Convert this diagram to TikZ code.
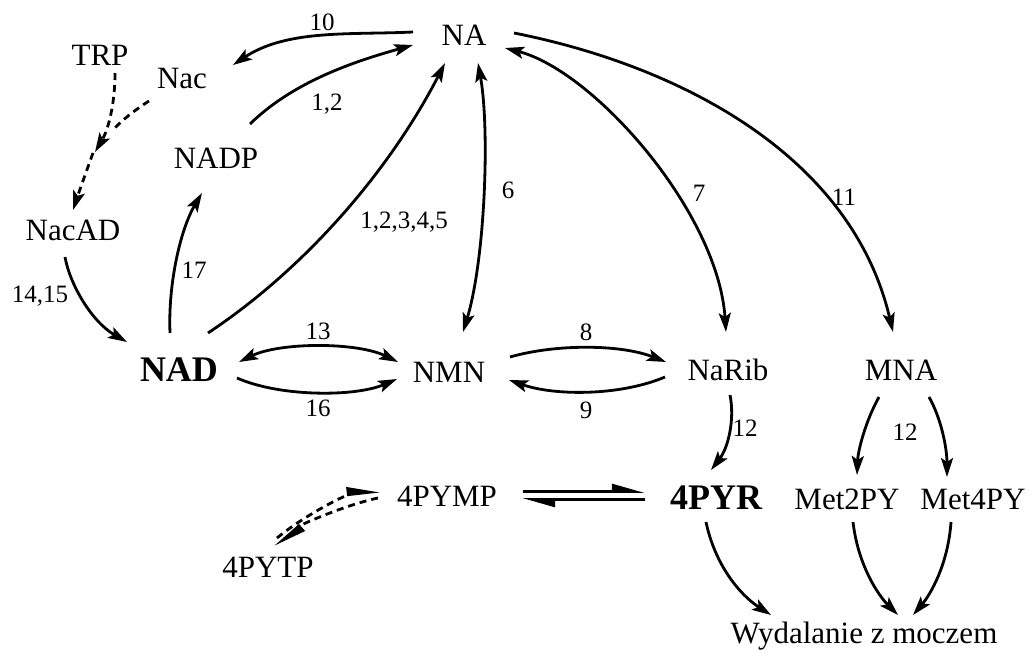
\documentclass[tikz,border=0pt]{standalone}
\usepackage{fontspec}
\setmainfont{Liberation Serif}
\usetikzlibrary{arrows.meta,calc}
\begin{document}
\begin{tikzpicture}[x=1pt,y=-1pt,
  nd/.style={font=\fontsize{31}{36}\selectfont, text height=20.5pt, text depth=0pt, inner sep=0pt},
  nb/.style={font=\fontsize{36}{42}\selectfont\bfseries, text height=24.3pt, text depth=0pt, inner sep=0pt},
  lbl/.style={font=\fontsize{25}{30}\selectfont, text height=17pt, text depth=0pt, inner sep=0pt},
  arr/.style={line width=2.8pt, -{Stealth[length=19pt,width=12pt,inset=4pt]}},
  darr/.style={line width=2.8pt, {Stealth[length=19pt,width=12pt,inset=4pt]}-{Stealth[length=19pt,width=12pt,inset=4pt]}},
  dsh/.style={dash pattern=on 7pt off 5pt},
  harp/.style={line width=2.8pt, -{Stealth[harpoon,length=28pt,width=15pt,inset=0pt]}}
]
\useasboundingbox (0,0) rectangle (1035,656);
% nodes
\node[nd] (NA) at (464,35) {NA};
\node[nd] (TRP) at (100,55) {TRP};
\node[nd] (Nac) at (182,78) {Nac};
\node[nd] (NADP) at (216,158) {NADP};
\node[nd] (NacAD) at (73,230) {NacAD};
\node[nb] (NAD) at (179,369) {NAD};
\node[nd] (NMN) at (449,372) {NMN};
\node[nd] (NaRib) at (728,370) {NaRib};
\node[nd] (MNA) at (901,370) {MNA};
\node[nb] (PYR) at (716,497) {4PYR};
\node[nd] (M2) at (847,499) {Met2PY};
\node[nd] (M4) at (973,499) {Met4PY};
\node[nd] (PYMP) at (447,496) {4PYMP};
\node[nd] (PYTP) at (268,567) {4PYTP};
\node[nd] (Wyd) at (864,633) {Wydalanie z moczem};
% labels
\node[lbl] (l10) at (322,22) {10};
\node[lbl] (l12a) at (327,102) {1,2};
\node[lbl] (l12345) at (404,220) {1,2,3,4,5};
\node[lbl] (l17) at (194,270) {17};
\node[lbl] (l1415) at (40,294) {14,15};
\node[lbl] (l6) at (508,190) {6};
\node[lbl] (l7) at (699,193) {7};
\node[lbl] (l11) at (844,197) {11};
\node[lbl] (l13) at (318,331) {13};
\node[lbl] (l16) at (318,408) {16};
\node[lbl] (l8) at (586,332) {8};
\node[lbl] (l9) at (586,410) {9};
\node[lbl] (l12b) at (745,428) {12};
\node[lbl] (l12c) at (905,432) {12};
% junction points for dashed arrows
\coordinate (j) at (95,152);
\coordinate (j2) at (113,130);
\coordinate (j3) at (93,153);
% connectors
\draw[arr] ($(NA)+(-51,-3)$) .. controls (351,35) and (287,29) .. ($(Nac)+(51,-13)$);
\draw[arr] ($(NADP)+(34,-34)$) .. controls (294,81) and (356,61) .. ($(NA)+(-51,10)$);
\draw[arr] ($(NAD)+(29,-36)$) .. controls (306,268) and (390,170) .. ($(NA)+(-19,28)$);
\draw[arr] ($(NAD)+(-9,-36)$) .. controls (168,285) and (180,230) .. ($(NADP)+(-14,35)$);
\draw[arr] ($(NacAD)+(-8,27)$) .. controls (70,285) and (92,322) .. ($(NAD)+(-52,-27)$);
\draw[darr] ($(NA)+(14,28)$) .. controls (490,130) and (485,260) .. ($(NMN)+(14,-40)$);
\draw[darr] ($(NA)+(41,13)$) .. controls (594,71) and (718,212) .. ($(NaRib)+(-2,-38)$);
\draw[arr] ($(NA)+(50,-2)$) .. controls (676,65) and (851,153) .. ($(MNA)+(-8,-38)$);
\draw[darr] ($(NAD)+(60,-7)$) .. controls (280,342) and (357,342) .. ($(NMN)+(-51,-10)$);
\draw[arr] ($(NAD)+(58,9)$) .. controls (280,397) and (355,397) .. ($(NMN)+(-52,7)$);
\draw[arr] ($(NMN)+(61,-15)$) .. controls (555,344) and (620,344) .. ($(NaRib)+(-62,-8)$);
\draw[arr] ($(NaRib)+(-63,7)$) .. controls (620,396) and (555,396) .. ($(NMN)+(60,8)$);
\draw[arr] ($(NaRib)+(2,25)$) .. controls (735,420) and (728,448) .. ($(PYR)+(-5,-27)$);
\draw[arr] ($(MNA)+(-22,27)$) .. controls (866,420) and (858,450) .. ($(M2)+(10,-24)$);
\draw[arr] ($(MNA)+(28,27)$) .. controls (942,420) and (947,450) .. ($(M4)+(-26,-22)$);
\draw[arr] ($(PYR)+(-10,25)$) .. controls (715,565) and (740,595) .. ($(Wyd)+(-93,-18)$);
\draw[arr] ($(M2)+(6,23)$) .. controls (858,565) and (878,595) .. ($(Wyd)+(34,-18)$);
\draw[arr] ($(M4)+(-22,23)$) .. controls (948,565) and (930,595) .. ($(Wyd)+(49,-18)$);
\draw[harp] ($(PYMP)+(76,-4.5)$) -- ($(PYR)+(-71,-5.5)$);
\draw[harp] ($(PYR)+(-71,2.5)$) -- ($(PYMP)+(75,3.5)$);
\draw[harp,dsh] ($(PYTP)+(9,-29)$) .. controls (305,515) and (345,495) .. ($(PYMP)+(-67,-5)$);
\draw[harp,dsh] ($(PYMP)+(-69,2)$) .. controls (345,505) and (300,525) .. ($(PYTP)+(7,-20)$);
\draw[arr,dsh] ($(TRP)+(15,18)$) .. controls (115,105) and (108,130) .. (j);
\draw[line width=2.8pt,dsh] ($(Nac)+(-33,23)$) .. controls (135,110) and (122,120) .. (j2);
\draw[arr,dsh] (j3) .. controls (85,175) and (78,195) .. ($(NacAD)+(0,-20)$);
\end{tikzpicture}
\end{document}
